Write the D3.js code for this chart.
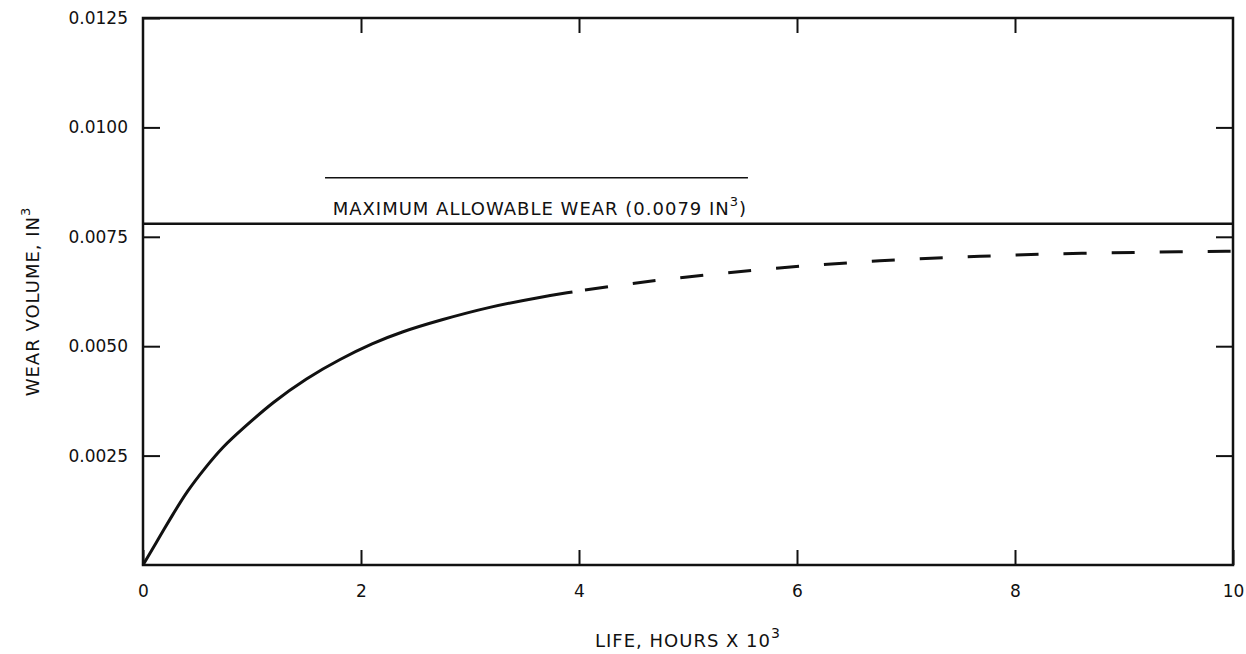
<!DOCTYPE html>
<html>
<head>
<meta charset="utf-8">
<script src="https://cdn.jsdelivr.net/npm/d3@7"></script>
<style>
  body { margin: 0; background: #fff; }
  text { font-family: "DejaVu Sans", sans-serif; fill: #111; }
</style>
</head>
<body>
<div id="viz"></div>
<script>
// values
var lifeSolid = [0, 0.14, 0.26, 0.41, 0.57, 0.73, 0.92, 1.19, 1.5, 1.81, 2.11, 2.36, 2.73, 3.18, 3.64, 3.94];
var wearSolid = [0, 0.00059, 0.0011, 0.00171, 0.00222, 0.0027, 0.00313, 0.00372, 0.00427, 0.00471, 0.00507, 0.00532, 0.0056, 0.0059, 0.00612, 0.00624];
var lifeDashed = [3.94, 4.4, 4.9, 5.84, 6.76, 7.68, 8.6, 9.6, 10];
var wearDashed = [0.00624, 0.00641, 0.00656, 0.0068, 0.00696, 0.00706, 0.00713, 0.00716, 0.00717];
var maxWear = 0.0078;
var xTicks = [0, 2, 4, 6, 8, 10];
var xTickLabels = ['0', '2', '4', '6', '8', '10'];
var yTicks = [0.0025, 0.005, 0.0075, 0.01, 0.0125];
var yTickLabels = ['0.0025', '0.0050', '0.0075', '0.0100', '0.0125'];

var margin = {top: 18, right: 13, bottom: 89, left: 143},
    width = 1246 - margin.left - margin.right,
    height = 654 - margin.top - margin.bottom;

var svg = d3.select('#viz').append('svg')
    .attr('width', 1246)
    .attr('height', 654);

var g = svg.append('g')
    .attr('transform', 'translate(' + margin.left + ',' + margin.top + ')');

var x = d3.scaleLinear().domain([0, 10]).range([0, width]);
var y = d3.scaleLinear().domain([0, 0.0125]).range([height, 0]);

function styleAxis(sel) {
  sel.select('.domain').remove();
  sel.selectAll('.tick line').attr('stroke', '#111').attr('stroke-width', 2);
  sel.selectAll('.tick text').style('font-size', '17px').attr('fill', '#111');
}

// left axis, ticks pointing in
g.append('g')
  .call(d3.axisLeft(y).tickValues(yTicks)
    .tickSizeInner(-17).tickSizeOuter(0).tickPadding(15)
    .tickFormat(function(d, i) { return yTickLabels[i]; }))
  .call(styleAxis);

// right axis, ticks only
g.append('g')
  .attr('transform', 'translate(' + width + ',0)')
  .call(d3.axisRight(y).tickValues(yTicks.slice(0, 4))
    .tickSizeInner(-17).tickSizeOuter(0).tickFormat(''))
  .call(styleAxis);

// bottom axis
g.append('g')
  .attr('transform', 'translate(0,' + height + ')')
  .call(d3.axisBottom(x).tickValues(xTicks)
    .tickSizeInner(-15).tickSizeOuter(0).tickPadding(20)
    .tickFormat(function(d, i) { return xTickLabels[i]; }))
  .call(styleAxis);

// top axis, ticks only
g.append('g')
  .call(d3.axisTop(x).tickValues(xTicks.slice(1, 5))
    .tickSizeInner(-15).tickSizeOuter(0).tickFormat(''))
  .call(styleAxis);

// frame
g.append('rect')
  .attr('width', width)
  .attr('height', height)
  .attr('fill', 'none')
  .attr('stroke', '#111')
  .attr('stroke-width', 2.5);

// max allowable wear line
g.append('line')
  .attr('x1', 0).attr('x2', width)
  .attr('y1', y(maxWear)).attr('y2', y(maxWear))
  .attr('stroke', '#111')
  .attr('stroke-width', 2.5);

// thin rule above the label (as in the print)
g.append('line')
  .attr('x1', x(1.67)).attr('x2', x(5.55))
  .attr('y1', y(maxWear) - 46).attr('y2', y(maxWear) - 46)
  .attr('stroke', '#111')
  .attr('stroke-width', 1.5);

var lbl = g.append('text')
  .attr('x', x(1.74))
  .attr('y', y(maxWear) - 9)
  .style('font-size', '18px')
  .style('letter-spacing', '1px');
lbl.append('tspan').text('MAXIMUM ALLOWABLE WEAR (0.0079 IN');
lbl.append('tspan').attr('dy', -9).style('font-size', '13px').text('3');
lbl.append('tspan').attr('dy', 9).text(')');

var line = d3.line()
  .x(function(d) { return x(d[0]); })
  .y(function(d) { return y(d[1]); })
  .curve(d3.curveBasis);

g.append('path')
  .datum(d3.zip(lifeSolid, wearSolid))
  .attr('d', line)
  .attr('fill', 'none')
  .attr('stroke', '#111')
  .attr('stroke-width', 3);

g.append('path')
  .datum(d3.zip(lifeDashed, wearDashed))
  .attr('d', line)
  .attr('fill', 'none')
  .attr('stroke', '#111')
  .attr('stroke-width', 3)
  .attr('stroke-dasharray', '0 13 23 12');

// axis titles
var xt = svg.append('text')
  .attr('x', margin.left + width / 2)
  .attr('y', 647)
  .attr('text-anchor', 'middle')
  .style('font-size', '18px')
  .style('letter-spacing', '1px');
xt.append('tspan').text('LIFE, HOURS X 10');
xt.append('tspan').attr('dy', -9).style('font-size', '14px').text('3');

var yt = svg.append('text')
  .attr('transform', 'translate(39,' + (margin.top + height / 2 + 10) + ') rotate(-90)')
  .attr('text-anchor', 'middle')
  .style('font-size', '18px')
  .style('letter-spacing', '1px');
yt.append('tspan').text('WEAR VOLUME, IN');
yt.append('tspan').attr('dy', -9).style('font-size', '13px').text('3');
</script>
</body>
</html>
